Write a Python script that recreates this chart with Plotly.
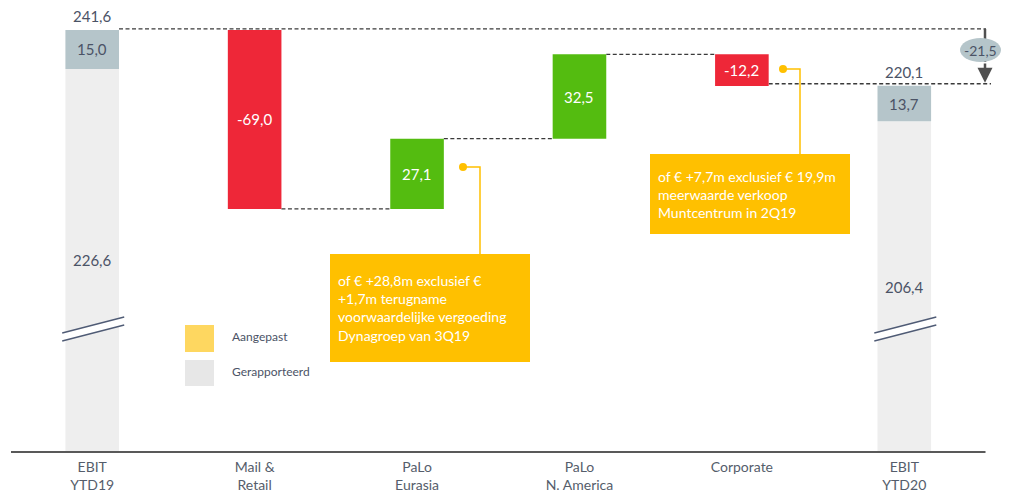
import plotly.graph_objects as go

# ---------------- data ----------------
categories = ["EBIT<br>YTD19", "Mail &<br>Retail", "PaLo<br>Eurasia",
              "PaLo<br>N. America", "Corporate", "EBIT<br>YTD20"]
start_total = 241.6
start_adjusted = 15.0
start_reported = 226.6
deltas = [-69.0, 27.1, 32.5, -12.2]
end_total = 220.1
end_adjusted = 13.7
end_reported = 206.4
total_change = -21.5
note_eurasia = ("of € +28,8m exclusief €<br>+1,7m terugname<br>"
                "voorwaardelijke vergoeding<br>Dynagroep van 3Q19")
note_corporate = ("of € +7,7m exclusief € 19,9m<br>meerwaarde verkoop<br>"
                  "Muntcentrum in 2Q19")
legend_labels = ["Aangepast", "Gerapporteerd"]

# ---------------- style / layout ----------------
OFF = 8  # default page body margin
W, H = 1009 - OFF, 495 - OFF
L, R, T, B = 11 - OFF, 4, 10 - OFF, 43
XMIN, XMAX = -0.5, 5.62
YMIN, YMAX = 78.9, 249.3
PW, PH = W - L - R, H - T - B

RED = "#ee2738"
GREEN = "#54bc10"
GREY = "#eeeeee"
BLUEGREY = "#b5c5ca"
ORANGE = "#ffc000"
TEXT = "#4b5366"
DASH = "#3a3a3a"
FONT = "Lato"
BW = 0.33


def fmt(v):
    return f"{v:.1f}".replace(".", ",")


# helpers converting reference-screen pixels to axis units
def px_x(p):
    return XMIN + (p - OFF - L) / PW * (XMAX - XMIN)


def px_y(p):
    return YMAX - (p - OFF - T) / PH * (YMAX - YMIN)


def dx(p):
    return p / PW * (XMAX - XMIN)


def dy(p):
    return p / PH * (YMAX - YMIN)


# floating bars
bases, ends = [], []
level = start_total
for d in deltas:
    bases.append(level)
    level += d
    ends.append(level)
float_x = [1, 2, 3, 4]
float_colors = [RED if d < 0 else GREEN for d in deltas]

fig = go.Figure()
fig.add_bar(x=[0, 5], y=[start_reported, end_reported], base=[0, 0],
            marker=dict(color=GREY, line=dict(width=0)), width=BW)
fig.add_bar(x=[0, 5], y=[start_adjusted, end_adjusted],
            base=[start_reported, end_reported],
            marker=dict(color=BLUEGREY, line=dict(width=0)), width=BW)
fig.add_bar(x=float_x, y=deltas, base=bases,
            marker=dict(color=float_colors, line=dict(width=0)), width=BW)

shapes = []
ann = []

# dashed connectors
dline = dict(color=DASH, width=1.3, dash="4px,2.5px")
shapes.append(dict(type="line", xref="x", yref="y", layer="below",
                   x0=0 + BW / 2, x1=px_x(986), y0=start_total + dy(1), y1=start_total + dy(1),
                   line=dline))
for i in range(len(deltas) - 1):
    lvl = ends[i]
    shapes.append(dict(type="line", xref="x", yref="y", layer="below",
                       x0=float_x[i] + BW / 2, x1=float_x[i + 1] - BW / 2,
                       y0=lvl, y1=lvl, line=dline))
shapes.append(dict(type="line", xref="x", yref="y", layer="below",
                   x0=float_x[-1] + BW / 2, x1=px_x(991),
                   y0=end_total + dy(2), y1=end_total + dy(2), line=dline))


def label(x, y, text, color, size=14, **kw):
    ann.append(dict(x=x, y=y, xref="x", yref="y", text=text, showarrow=False,
                    font=dict(family=FONT, size=size, color=color), **kw))


label(0, start_total, fmt(start_total), TEXT, 15, yanchor="bottom", yshift=3)
label(0, start_reported + start_adjusted / 2, fmt(start_adjusted), TEXT, 15)
label(0, (start_reported + YMIN) / 2, fmt(start_reported), TEXT, 15)
label(5, end_total, fmt(end_total), TEXT, 15, yanchor="bottom", yshift=3)
label(5, end_reported + end_adjusted / 2, fmt(end_adjusted), TEXT, 15)
label(5, (end_reported + YMIN) / 2, fmt(end_reported), TEXT, 15)
for xi, b0, e0, d in zip(float_x, bases, ends, deltas):
    label(xi, (b0 + e0) / 2, fmt(d), "white", 15)

# axis break marks
for xc in [0, 5]:
    xa, xb = xc - dx(30), xc + dx(32)
    ya1, yb1 = px_y(333), px_y(317)
    ya2, yb2 = px_y(341), px_y(325)
    shapes.append(dict(type="path", xref="x", yref="y",
                       path=f"M{xa},{ya1} L{xb},{yb1} L{xb},{yb2} L{xa},{ya2} Z",
                       fillcolor="white", line=dict(width=0)))
    for (y0, y1) in [(ya1, yb1), (ya2, yb2)]:
        shapes.append(dict(type="line", xref="x", yref="y", x0=xa, x1=xb,
                           y0=y0, y1=y1, line=dict(color="#4f5b75", width=1.3)))

# total change marker (ellipse + arrow)
ax_x = px_x(985)
shapes.append(dict(type="line", xref="x", yref="y", x0=ax_x, x1=ax_x,
                   y0=start_total + dy(1), y1=px_y(62), line=dict(color="#505050", width=2.5)))
shapes.append(dict(type="circle", xref="x", yref="y",
                   x0=px_x(960), x1=px_x(1001), y0=px_y(62), y1=px_y(38),
                   fillcolor=BLUEGREY, line=dict(width=0)))
ann.append(dict(x=px_x(980), y=px_y(50), xref="x", yref="y", text=fmt(total_change),
                showarrow=False, font=dict(family=FONT, size=14, color=TEXT)))
ann.append(dict(x=ax_x, y=end_total + dy(3), xref="x", yref="y",
                ax=ax_x, ay=px_y(62), axref="x", ayref="y", text="",
                showarrow=True, arrowhead=2, arrowsize=1.2, arrowwidth=2.5,
                arrowcolor="#505050"))


def callout(box, dot, elbow_x, text):
    x0, y0, x1, y1 = box
    shapes.append(dict(type="rect", xref="x", yref="y",
                       x0=px_x(x0), x1=px_x(x1), y0=px_y(y1), y1=px_y(y0),
                       fillcolor=ORANGE, line=dict(width=0)))
    shapes.append(dict(type="path", xref="x", yref="y",
                       path=f"M{px_x(dot[0])},{px_y(dot[1])} L{px_x(elbow_x)},{px_y(dot[1])} "
                            f"L{px_x(elbow_x)},{px_y(y0)}",
                       line=dict(color=ORANGE, width=1.5)))
    shapes.append(dict(type="circle", xref="x", yref="y",
                       x0=px_x(dot[0] - 4), x1=px_x(dot[0] + 4),
                       y0=px_y(dot[1] + 4), y1=px_y(dot[1] - 4),
                       fillcolor=ORANGE, line=dict(width=0)))
    ann.append(dict(x=px_x(x0 + 6), y=px_y((y0 + y1) / 2), xref="x", yref="y",
                    text=text, showarrow=False, xanchor="left", yanchor="middle",
                    align="left", font=dict(family=FONT, size=14, color="white")))


callout((330, 254, 530, 362), (463, 167), 480, note_eurasia)
callout((650, 154, 850, 234), (783, 69), 800, note_corporate)

# legend
for (yt, yb), col, txt in zip([(325, 352), (360, 386)], ["#fed760", "#e7e7e7"],
                              legend_labels):
    shapes.append(dict(type="rect", xref="x", yref="y",
                       x0=px_x(185), x1=px_x(214), y0=px_y(yb), y1=px_y(yt),
                       fillcolor=col, line=dict(width=0)))
    ann.append(dict(x=px_x(230), y=px_y((yt + yb) / 2 - 2), xref="x", yref="y",
                    text=txt, showarrow=False, xanchor="left",
                    font=dict(family=FONT, size=12, color=TEXT)))

# baseline
shapes.append(dict(type="line", xref="paper", yref="paper",
                   x0=(-0.5 - XMIN) / (XMAX - XMIN), x1=(5.5 - XMIN) / (XMAX - XMIN),
                   y0=0, y1=0, line=dict(color="#595959", width=2)))

fig.update_layout(
    width=W, height=H, margin=dict(l=L, r=R, t=T, b=B, pad=0),
    paper_bgcolor="white", plot_bgcolor="white",
    barmode="overlay", showlegend=False, hovermode=False,
    shapes=shapes, annotations=ann,
    font=dict(family=FONT, color=TEXT),
    xaxis=dict(range=[XMIN, XMAX], tickvals=list(range(len(categories))),
               ticktext=categories, showgrid=False, zeroline=False,
               showline=False, ticks="", ticklabelstandoff=5,
               tickfont=dict(family=FONT, size=14, color="#555d6b")),
    yaxis=dict(range=[YMIN, YMAX], visible=False, showgrid=False, zeroline=False),
)

fig.write_html("out.html")
